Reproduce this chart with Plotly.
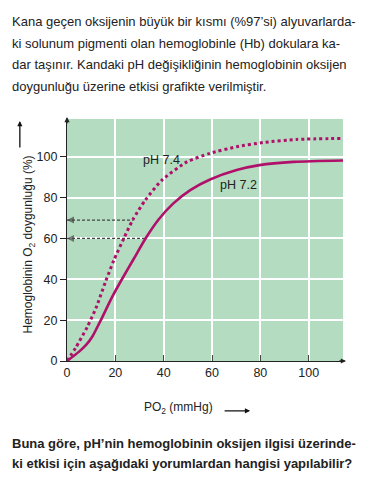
import plotly.graph_objects as go

# ---- data ----
po2_74 = [0, 3.6, 8.4, 12, 16, 19.4, 23.5, 27.3, 32.4, 39.3, 49.6, 59.2, 70.2, 81.2, 95, 114.2]
sat_74 = [0, 6.5, 16.7, 26, 39, 49.4, 60, 69.3, 78.8, 88.6, 97.5, 101.7, 104.9, 107, 108.5, 109]
po2_72 = [0, 5, 8, 10.5, 12.5, 14, 18.7, 22.9, 27.7, 32.5, 37.9, 44, 51, 59.2, 70.2, 79.6, 93.6, 114.2]
sat_72 = [0, 4.6, 8, 12, 16.5, 20, 31.4, 40.4, 50.2, 60, 69.3, 77.2, 83.7, 88.9, 93.5, 95.9, 97.5, 98.2]
ref_levels = [69, 60]          # dotted reference levels (%)
ref_ends = [27.5, 32.5]        # PO2 where they meet the curves
x_ticks = [0, 20, 40, 60, 80, 100]
y_ticks = [0, 20, 40, 60, 80, 100]

OFF = 8  # browser default body margin
W, H = 369 - OFF, 485 - OFF
L, T = 66.7 - OFF, 119 - OFF
R = W - (343 - OFF)
B = H - (360.7 - OFF)
PW, PH = W - L - R, H - T - B


def px(x):
    return (x - OFF - L) / PW


def py(y):
    return 1 - (y - OFF - T) / PH


CURVE = "#b0106a"
FONT = "Liberation Sans, Arial, Helvetica, sans-serif"
TXT = "#222222"

fig = go.Figure()

# reference dotted lines
for lvl, xe in zip(ref_levels, ref_ends):
    fig.add_trace(go.Scatter(
        x=[0, xe], y=[lvl, lvl], mode="lines+markers",
        line=dict(color="#444444", width=1.2, dash="3px,2px"),
        marker=dict(symbol="arrow-left", size=[7, 0], color="#444444", line=dict(width=0)),
        cliponaxis=False, showlegend=False, hoverinfo="skip"))

fig.add_trace(go.Scatter(x=po2_72, y=sat_72, mode="lines",
                         line=dict(color=CURVE, width=2.6, shape="spline", smoothing=0.8),
                         showlegend=False))
fig.add_trace(go.Scatter(x=po2_74, y=sat_74, mode="lines",
                         line=dict(color=CURVE, width=3, dash="dot", shape="spline", smoothing=0.6),
                         showlegend=False))

ann = []
para = ["Kana geçen oksijenin büyük bir kısmı (%97’si) alyuvarlarda-",
        "ki solunum pigmenti olan hemoglobinle (Hb) dokulara ka-",
        "dar taşınır. Kandaki pH değişikliğinin hemoglobinin oksijen",
        "doygunluğu üzerine etkisi grafikte verilmiştir."]
for i, s in enumerate(para):
    ann.append(dict(text=s, xref="paper", yref="paper", x=px(10), y=py(21.5 + 21.7 * i),
                    xanchor="left", yanchor="middle", showarrow=False,
                    font=dict(family=FONT, size=13, color=TXT)))
quest = ["Buna göre, pH’nin hemoglobinin oksijen ilgisi üzerinde-",
         "ki etkisi için aşağıdaki yorumlardan hangisi yapılabilir?"]
for i, s in enumerate(quest):
    ann.append(dict(text="<b>" + s + "</b>", xref="paper", yref="paper", x=px(10), y=py(443 + 20 * i),
                    xanchor="left", yanchor="middle", showarrow=False,
                    font=dict(family=FONT, size=13, color=TXT)))

# curve labels
ann.append(dict(text="pH 7.4", x=39, y=98.4, xref="x", yref="y", showarrow=False,
                font=dict(family=FONT, size=12.5, color=TXT)))
ann.append(dict(text="pH 7.2", x=70.9, y=86.1, xref="x", yref="y", showarrow=False,
                font=dict(family=FONT, size=12.5, color=TXT)))

# axis titles
ann.append(dict(text="PO<sub>2</sub> (mmHg)", xref="paper", yref="paper", x=px(178), y=py(418),
                showarrow=False, font=dict(family=FONT, size=12, color=TXT)))
ann.append(dict(text="", xref="paper", yref="paper", x=px(250), y=py(410.5), ax=-27, ay=0,
                showarrow=True, arrowhead=2, arrowsize=0.8, arrowwidth=1.3, arrowcolor="#111111"))
ann.append(dict(text="Hemoglobinin O<sub>2</sub> doygunluğu (%)", xref="paper", yref="paper",
                x=px(19), y=py(244), textangle=-90, showarrow=False,
                font=dict(family=FONT, size=12, color=TXT)))
ann.append(dict(text="", xref="paper", yref="paper", x=px(19.5), y=py(121), ax=0, ay=28,
                showarrow=True, arrowhead=2, arrowsize=0.8, arrowwidth=1.3, arrowcolor="#111111"))

# axis arrows
ann.append(dict(text="", xref="paper", yref="paper", x=px(66.7), y=py(117), ax=0, ay=8,
                showarrow=True, arrowhead=2, arrowsize=0.8, arrowwidth=1.3, arrowcolor="#222222"))
ann.append(dict(text="", xref="paper", yref="paper", x=px(346), y=py(360.7), ax=-8, ay=0,
                showarrow=True, arrowhead=2, arrowsize=0.8, arrowwidth=1.3, arrowcolor="#222222"))

fig.update_layout(
    width=W, height=H, margin=dict(l=L, r=R, t=T, b=B, pad=0),
    paper_bgcolor="white", plot_bgcolor="#b3dcc1",
    annotations=ann, showlegend=False,
    font=dict(family=FONT, size=12.5, color=TXT),
)
fig.update_xaxes(range=[0, 114.2], tickvals=x_ticks, ticktext=[str(v) for v in x_ticks],
                 showgrid=True, gridcolor="white", gridwidth=1.5, zeroline=False,
                 showline=True, linecolor="#222222", linewidth=1.3,
                 ticks="inside", ticklen=6, tickcolor="#444444", tickwidth=1.3,
                 tickfont=dict(family=FONT, size=12.5, color=TXT), fixedrange=True)
fig.update_yaxes(range=[0, 118.5], tickvals=y_ticks, ticktext=[str(v) for v in y_ticks],
                 showgrid=True, gridcolor="white", gridwidth=1.5, zeroline=False,
                 showline=True, linecolor="#222222", linewidth=1.3,
                 ticks="outside", ticklen=6, tickcolor="#222222", tickwidth=1.3,
                 tickfont=dict(family=FONT, size=12.5, color=TXT), fixedrange=True)

fig.write_html("out.html")
